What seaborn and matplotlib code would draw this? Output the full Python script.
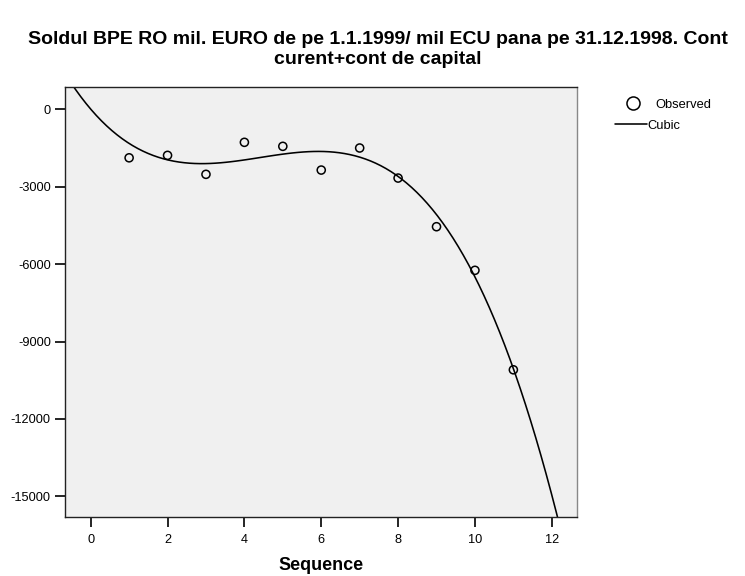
import matplotlib
matplotlib.use("Agg")
import matplotlib.pyplot as plt
from matplotlib.lines import Line2D
import pandas as pd
import seaborn as sns

# ── Datos ───────────────────────────────────────────────────────────────────
SECUENCIA = [1, 2, 3, 4, 5, 6, 7, 8, 9, 10, 11]
SOLDUL = [-1880, -1785, -2520, -1280, -1435, -2355, -1500, -2665, -4550, -6240, -10095]

# valores de la curva cúbica leídos sobre la línea del gráfico
CUBIC_X = [-0.43, 0, 1, 2, 3, 4, 5, 6, 7, 8, 9, 10, 11, 12.14]
CUBIC_Y = [864, -50, -1320, -1915, -2070, -1965, -1733, -1643, -1900, -2663,
           -4190, -6220, -10093, -15800]

X_TICKS = [0, 2, 4, 6, 8, 10, 12]
Y_TICKS = [0, -3000, -6000, -9000, -12000, -15000]

TITULO = ("Soldul BPE RO mil. EURO de pe 1.1.1999/ mil ECU pana pe 31.12.1998. Cont\n"
          "curent+cont de capital")

sns.set_style("white")
plt.rcParams.update({
    "font.family": ["Liberation Sans", "DejaVu Sans"],
    "axes.unicode_minus": False,
    "text.color": "black",
    "axes.labelcolor": "black",
    "xtick.color": "black",
    "ytick.color": "black",
})

df_obs = pd.DataFrame({"Sequence": SECUENCIA, "Soldul": SOLDUL})
df_cub = pd.DataFrame({"Sequence": CUBIC_X, "Soldul": CUBIC_Y})

fig = plt.figure(figsize=(7.45, 5.76), dpi=100)
ax = fig.add_axes([0.0877, 0.1024, 0.687, 0.7466])
ax.set_facecolor("#F0F0F0")
ax.set_xlim(-0.66, 12.66)
ax.set_ylim(-15800, 865)

# curva cúbica (se extiende a todo el eje)
sns.regplot(data=df_cub, x="Sequence", y="Soldul", order=3, ci=None, scatter=False,
            truncate=False, ax=ax, line_kws={"color": "black", "linewidth": 1.15})
sns.scatterplot(data=df_obs, x="Sequence", y="Soldul", ax=ax, marker="o", s=34,
                facecolor="none", edgecolor="black", linewidth=1.1, zorder=3)

ax.set_xlim(-0.66, 12.66)
ax.set_ylim(-15800, 865)
ax.set_xticks(X_TICKS)
ax.set_yticks(Y_TICKS)
ax.tick_params(axis="both", direction="out", length=7.5, width=1.2,
               color="black", labelcolor="black", labelsize=9.2,
               bottom=True, left=True)
ax.tick_params(axis="x", pad=5)
ax.tick_params(axis="y", pad=3)
ax.set_xlabel("Sequence", fontsize=13, fontweight="bold", labelpad=8, color="black")
ax.set_ylabel("")
for spine in ax.spines.values():
    spine.set_color("#222222")
    spine.set_linewidth(1.0)
ax.spines["right"].set_color("#888888")

# ── Leyenda (dos entradas con alineación propia, como en el original) ────────
h_obs = Line2D([], [], marker="o", linestyle="none", markersize=9.4,
               markerfacecolor="none", markeredgecolor="black", markeredgewidth=1.1)
h_cub = Line2D([], [], color="black", linewidth=1.15)
leg1 = fig.legend([h_obs], ["Observed"], loc="center left",
                  bbox_to_anchor=(623.7 / 745, 1 - 105 / 576), frameon=False,
                  fontsize=9.3, handlelength=1.4, handletextpad=1.05,
                  borderpad=0, borderaxespad=0, labelcolor="black")
leg2 = fig.legend([h_cub], ["Cubic"], loc="center left",
                  bbox_to_anchor=(615 / 745, 1 - 126 / 576), frameon=False,
                  fontsize=9.3, handlelength=2.48, handletextpad=0.0,
                  borderpad=0, borderaxespad=0, labelcolor="black")

fig.suptitle(TITULO, x=0.507, y=0.947, fontsize=14, fontweight="bold",
             linespacing=1.3, color="black")

fig.savefig("out.png", dpi=100)
